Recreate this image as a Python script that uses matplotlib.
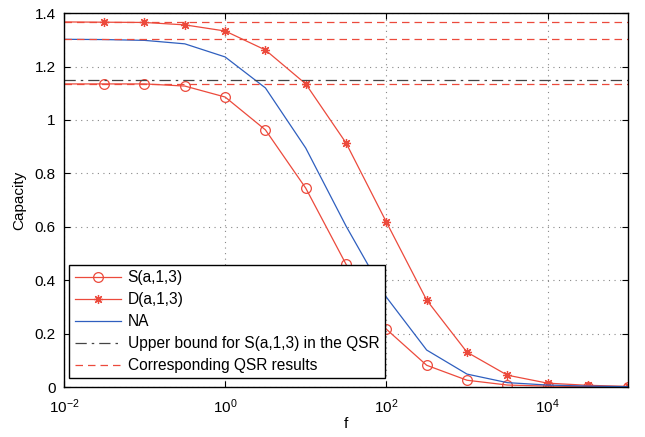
import numpy as np
import matplotlib.pyplot as plt

plt.rcParams['font.family'] = ['Liberation Sans', 'DejaVu Sans']
plt.rcParams['font.size'] = 11

# f values: 10^-2 then every half decade from 10^-1.5 up to 10^5
f = 10 ** np.array([-2, -1.5, -1, -0.5, 0, 0.5, 1, 1.5, 2, 2.5, 3, 3.5, 4, 4.5, 5])

s_a13 = [1.135, 1.135, 1.135, 1.127, 1.086, 0.963, 0.745, 0.460, 0.217, 0.082, 0.026, 0.008, 0.004, 0.002, 0.001]
d_a13 = [1.367, 1.366, 1.365, 1.356, 1.333, 1.262, 1.135, 0.914, 0.618, 0.326, 0.131, 0.045, 0.015, 0.007, 0.003]
na = [1.302, 1.301, 1.298, 1.285, 1.236, 1.120, 0.895, 0.603, 0.337, 0.139, 0.049, 0.017, 0.008, 0.004, 0.002]

upper_bound = 1.148
qsr_results = [1.367, 1.302, 1.135]

red = '#ec4a3c'
blue = '#2f5fbf'

fig = plt.figure(figsize=(6.45, 4.37), dpi=100)
ax = fig.add_axes([0.099, 0.114, 0.875, 0.856])

ax.plot(f, s_a13, '-o', color=red, lw=0.9, ms=7, mfc='none', mew=0.9,
        markevery=slice(1, None), label='S(a,1,3)')
ax.plot(f, d_a13, '-', marker=(8, 2, 0), color=red, lw=0.9, ms=6.5, mew=0.9,
        markevery=slice(1, None), label='D(a,1,3)')
ax.plot(f, na, '-', color=blue, lw=0.9, label='NA')
ax.axhline(upper_bound, color='#444444', lw=0.9, ls=(0, (9, 4, 2, 4)),
           label='Upper bound for S(a,1,3) in the QSR')
for i, q in enumerate(qsr_results):
    ax.axhline(q, color=red, lw=0.9, ls=(0, (6, 4)),
               label='Corresponding QSR results' if i == 0 else None)

ax.set_xscale('log')
ax.set_xlim(1e-2, 1e5)
ax.set_ylim(0, 1.4)
ax.set_xticks([1e-2, 1e0, 1e2, 1e4])
ax.xaxis.set_minor_locator(plt.NullLocator())
ax.set_yticks(np.arange(0, 1.41, 0.2))
ax.set_yticklabels(['0', '0.2', '0.4', '0.6', '0.8', '1', '1.2', '1.4'])
ax.grid(True, ls=(0, (1, 4)), color='#888888', lw=0.8)
ax.tick_params(direction='in', top=True, right=True, length=4, width=0.8)
ax.tick_params(axis='x', pad=7)
ax.tick_params(axis='y', pad=6)
for sp in ax.spines.values():
    sp.set_linewidth(1.0)
ax.set_xlabel('f', labelpad=1)
ax.set_ylabel('Capacity', labelpad=6)

leg = ax.legend(loc='lower left', bbox_to_anchor=(0.004, 0.015), handlelength=3.0,
                fancybox=False, edgecolor='black', framealpha=1,
                borderpad=0.35, labelspacing=0.45, handletextpad=0.4,
                borderaxespad=0.2, fontsize=11.2)
leg.get_frame().set_linewidth(1.0)

fig.savefig('out.png', dpi=100)
